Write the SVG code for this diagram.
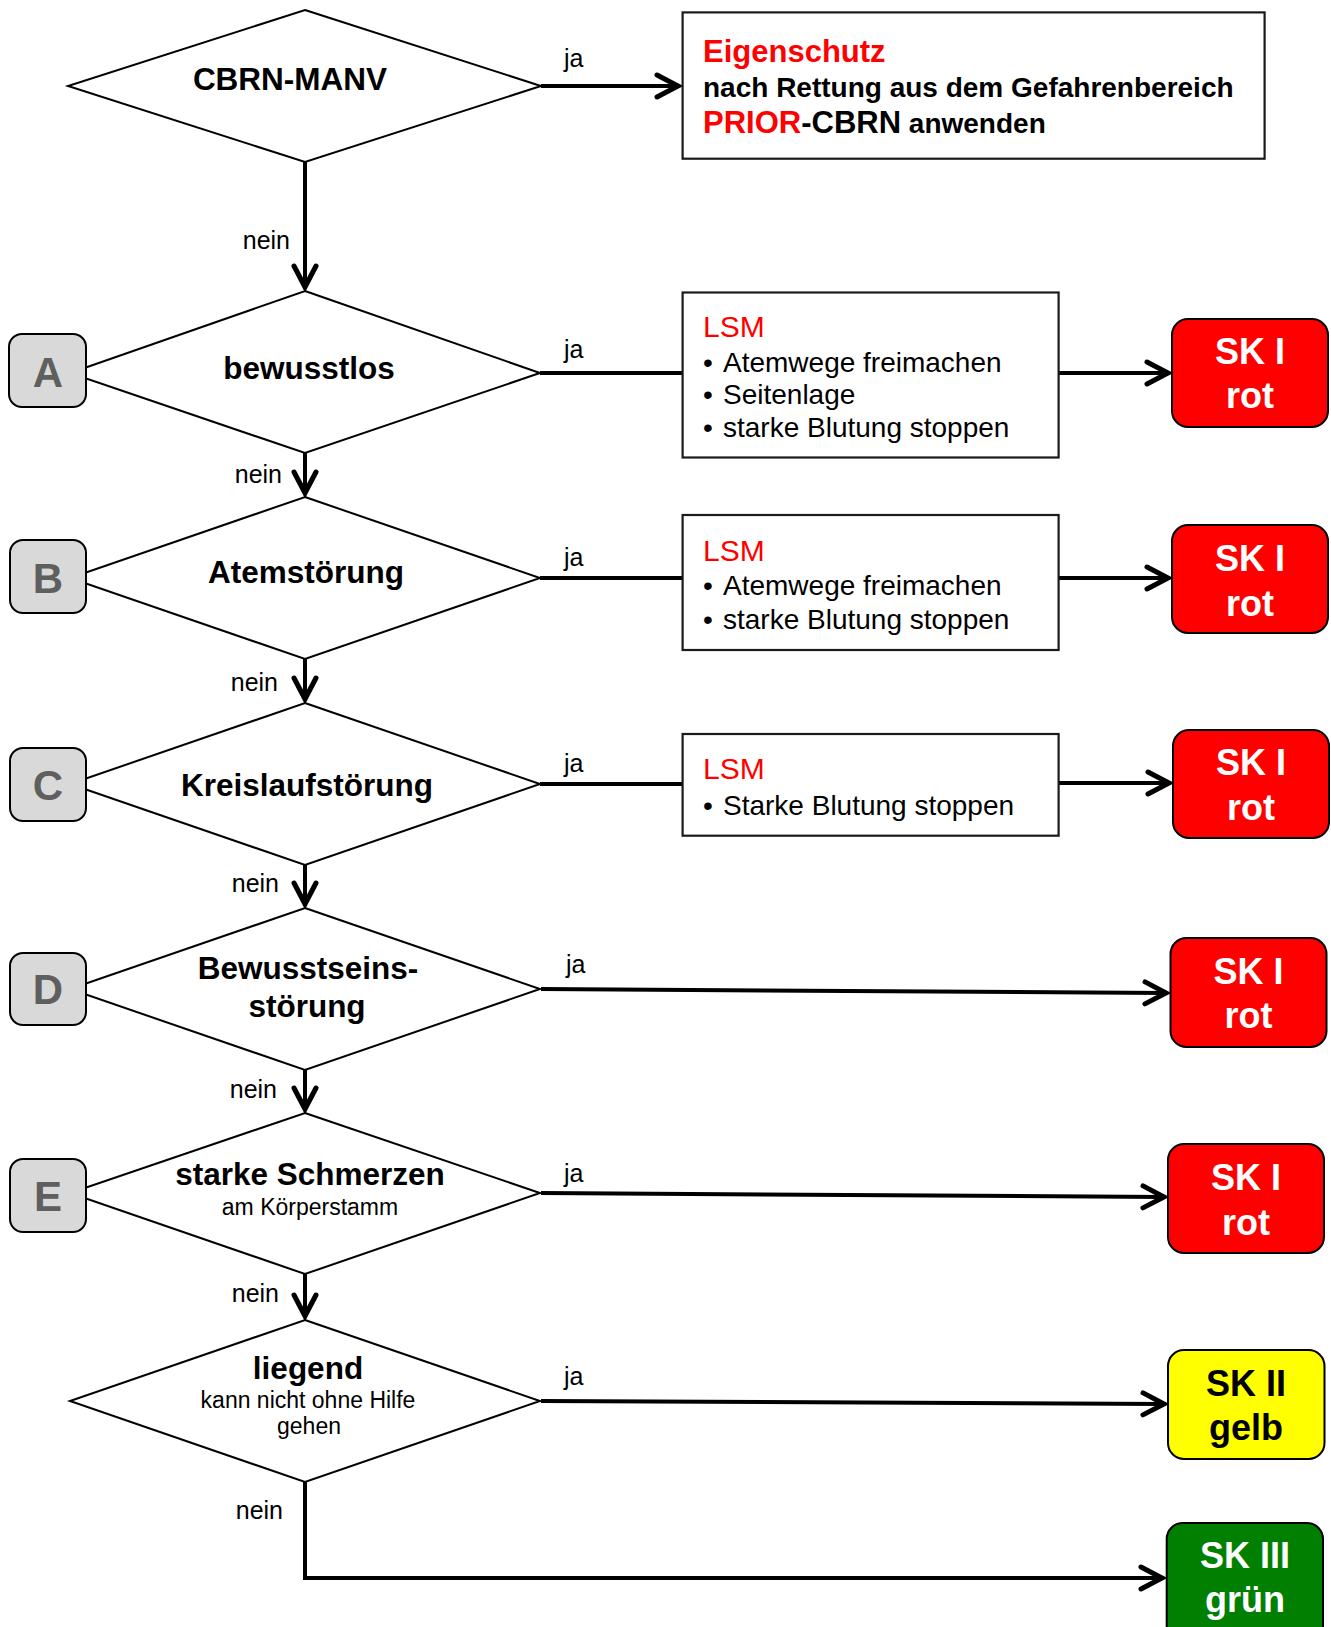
<svg xmlns="http://www.w3.org/2000/svg" width="1331" height="1627" viewBox="0 0 1331 1627">
<style>
text{font-family:"Liberation Sans",Arial,Helvetica,sans-serif}
.dia{fill:#fff;stroke:#000;stroke-width:2}
.box{fill:#fff;stroke:#1a1a1a;stroke-width:2.2}
.badge{fill:#d9d9d9;stroke:#000;stroke-width:2}
.bl{font-size:42px;font-weight:bold;fill:#5f5f5f;text-anchor:middle}
.q{font-size:31.5px;font-weight:bold;fill:#000;text-anchor:middle}
.qs{font-size:23px;fill:#000;text-anchor:middle}
.lbl{font-size:25px;fill:#000}
.lsm{font-size:30px;fill:#f00}
.it{font-size:28px;fill:#000}
.sk{font-size:36px;font-weight:bold;text-anchor:middle}
.red{fill:#f00;stroke:#000;stroke-width:2}
.w{fill:#fff}
.conn line,.conn path{stroke:#000;stroke-width:4;fill:none}
.arr{marker-end:url(#ah)}
</style>
<defs>
<marker id="ah" markerUnits="userSpaceOnUse" viewBox="-30 -16 34 32" markerWidth="34" markerHeight="32" refX="0" refY="0" orient="auto" overflow="visible">
<path d="M-21,-11 L0,0 L-21,11" fill="none" stroke="#000" stroke-width="5" stroke-linecap="round" stroke-linejoin="miter"/>
</marker>
</defs>

<g class="conn" id="connectors">
<line class="arr" x1="541" y1="86" x2="678" y2="86"/>
<line class="arr" x1="305" y1="162" x2="305" y2="287"/>
<line x1="540" y1="373" x2="682" y2="373"/>
<line class="arr" x1="1059" y1="373" x2="1168" y2="373"/>
<line class="arr" x1="305" y1="453" x2="305" y2="493"/>
<line x1="540" y1="578" x2="682" y2="578"/>
<line class="arr" x1="1059" y1="578" x2="1168" y2="578"/>
<line class="arr" x1="305" y1="659" x2="305" y2="699"/>
<line x1="540" y1="784" x2="682" y2="784"/>
<line class="arr" x1="1059" y1="783" x2="1169" y2="783"/>
<line class="arr" x1="305" y1="865" x2="305" y2="904"/>
<line class="arr" x1="541" y1="989" x2="1166" y2="993"/>
<line class="arr" x1="305" y1="1070" x2="305" y2="1109"/>
<line class="arr" x1="541" y1="1193" x2="1164" y2="1197"/>
<line class="arr" x1="305" y1="1274" x2="305" y2="1316"/>
<line class="arr" x1="541" y1="1401" x2="1164" y2="1404"/>
<path class="arr" d="M305,1482 L305,1578 L1162,1578"/>
<text class="lbl" x="564" y="67">ja</text>
<text class="lbl" x="290" y="249" text-anchor="end">nein</text>
<text class="lbl" x="564" y="358">ja</text>
<text class="lbl" x="282" y="483" text-anchor="end">nein</text>
<text class="lbl" x="564" y="566">ja</text>
<text class="lbl" x="278" y="691" text-anchor="end">nein</text>
<text class="lbl" x="564" y="772">ja</text>
<text class="lbl" x="279" y="892" text-anchor="end">nein</text>
<text class="lbl" x="566" y="973">ja</text>
<text class="lbl" x="277" y="1098" text-anchor="end">nein</text>
<text class="lbl" x="564" y="1182">ja</text>
<text class="lbl" x="279" y="1302" text-anchor="end">nein</text>
<text class="lbl" x="564" y="1385">ja</text>
<text class="lbl" x="283" y="1519" text-anchor="end">nein</text>
</g>

<g id="cbrn">
<polygon class="dia" points="305,10 541,86 305,162 68,86"/>
<text class="q" x="290" y="90">CBRN-MANV</text>
</g>
<g id="eigenschutz">
<rect class="box" x="682.6" y="12.4" width="582" height="146.3"/>
<text x="703" y="62" font-size="31" font-weight="bold" fill="#f00">Eigenschutz</text>
<text x="703" y="97" font-size="28" font-weight="bold" fill="#000">nach Rettung aus dem Gefahrenbereich</text>
<text x="703" y="133" font-weight="bold" fill="#000"><tspan font-size="31" fill="#f00">PRIOR</tspan><tspan font-size="31">-CBRN</tspan><tspan font-size="28"> anwenden</tspan></text>
</g>

<g id="bewusstlos">
<polygon class="dia" points="305,291 540,373 305,453 70,373"/>
<text class="q" x="309" y="379">bewusstlos</text>
</g>
<g id="badgeA">
<rect class="badge" x="9" y="334" width="77" height="73" rx="13"/>
<text class="bl" x="48" y="387">A</text>
</g>
<g id="lsmA">
<rect class="box" x="682.6" y="292.5" width="376" height="165"/>
<text class="lsm" x="703" y="337">LSM</text>
<text class="it" x="703" y="372">•</text><text class="it" x="723" y="372">Atemwege freimachen</text>
<text class="it" x="703" y="404">•</text><text class="it" x="723" y="404">Seitenlage</text>
<text class="it" x="703" y="437">•</text><text class="it" x="723" y="437">starke Blutung stoppen</text>
</g>
<g id="skA">
<rect class="red" x="1172" y="319" width="156" height="108" rx="16"/>
<text class="sk w" x="1250" y="364">SK I</text>
<text class="sk w" x="1250" y="408">rot</text>
</g>

<g id="atemstoerung">
<polygon class="dia" points="305,497 540,578 305,659 70,578"/>
<text class="q" x="306" y="583">Atemstörung</text>
</g>
<g id="badgeB">
<rect class="badge" x="10" y="540" width="76" height="73" rx="13"/>
<text class="bl" x="48" y="593">B</text>
</g>
<g id="lsmB">
<rect class="box" x="682.6" y="515" width="376" height="135"/>
<text class="lsm" x="703" y="561">LSM</text>
<text class="it" x="703" y="595">•</text><text class="it" x="723" y="595">Atemwege freimachen</text>
<text class="it" x="703" y="629">•</text><text class="it" x="723" y="629">starke Blutung stoppen</text>
</g>
<g id="skB">
<rect class="red" x="1172" y="525" width="156" height="108" rx="16"/>
<text class="sk w" x="1250" y="571">SK I</text>
<text class="sk w" x="1250" y="616">rot</text>
</g>

<g id="kreislauf">
<polygon class="dia" points="305,703 540,784 305,865 70,784"/>
<text class="q" x="307" y="796">Kreislaufstörung</text>
</g>
<g id="badgeC">
<rect class="badge" x="10" y="748" width="76" height="73" rx="13"/>
<text class="bl" x="48" y="800">C</text>
</g>
<g id="lsmC">
<rect class="box" x="682.6" y="734" width="376" height="101.7"/>
<text class="lsm" x="703" y="779">LSM</text>
<text class="it" x="703" y="815">•</text><text class="it" x="723" y="815">Starke Blutung stoppen</text>
</g>
<g id="skC">
<rect class="red" x="1173" y="730" width="156" height="108" rx="16"/>
<text class="sk w" x="1251" y="775">SK I</text>
<text class="sk w" x="1251" y="820">rot</text>
</g>

<g id="bewusstsein">
<polygon class="dia" points="305,908 540,989 305,1070 70,989"/>
<text class="q" x="308" y="979">Bewusstseins-</text>
<text class="q" x="307" y="1017">störung</text>
</g>
<g id="badgeD">
<rect class="badge" x="10" y="953" width="76" height="72" rx="13"/>
<text class="bl" x="48" y="1004">D</text>
</g>
<g id="skD">
<rect class="red" x="1170.5" y="938" width="156" height="109" rx="16"/>
<text class="sk w" x="1248.5" y="984">SK I</text>
<text class="sk w" x="1248.5" y="1028">rot</text>
</g>

<g id="schmerzen">
<polygon class="dia" points="305,1113 540,1193 305,1274 70,1193"/>
<text class="q" x="310" y="1185">starke Schmerzen</text>
<text class="qs" x="310" y="1215">am Körperstamm</text>
</g>
<g id="badgeE">
<rect class="badge" x="10" y="1159" width="76" height="73" rx="13"/>
<text class="bl" x="48" y="1211">E</text>
</g>
<g id="skE">
<rect class="red" x="1168" y="1144" width="156" height="109" rx="16"/>
<text class="sk w" x="1246" y="1190">SK I</text>
<text class="sk w" x="1246" y="1235">rot</text>
</g>

<g id="liegend">
<polygon class="dia" points="305,1320 540,1401 305,1482 70,1401"/>
<text class="q" x="308" y="1379">liegend</text>
<text class="qs" x="308" y="1408" font-size="21">kann nicht ohne Hilfe</text>
<text class="qs" x="309" y="1434" font-size="21">gehen</text>
</g>
<g id="skII">
<rect x="1168" y="1350" width="156.5" height="109" rx="16" fill="#ff0" stroke="#000" stroke-width="2"/>
<text class="sk" x="1246" y="1396" fill="#000">SK II</text>
<text class="sk" x="1246" y="1440" fill="#000">gelb</text>
</g>
<g id="skIII">
<rect x="1166.7" y="1523" width="156.3" height="120" rx="16" fill="#007f00" stroke="#000" stroke-width="2"/>
<text class="sk w" x="1245" y="1568">SK III</text>
<text class="sk w" x="1245" y="1612">grün</text>
</g>
</svg>
